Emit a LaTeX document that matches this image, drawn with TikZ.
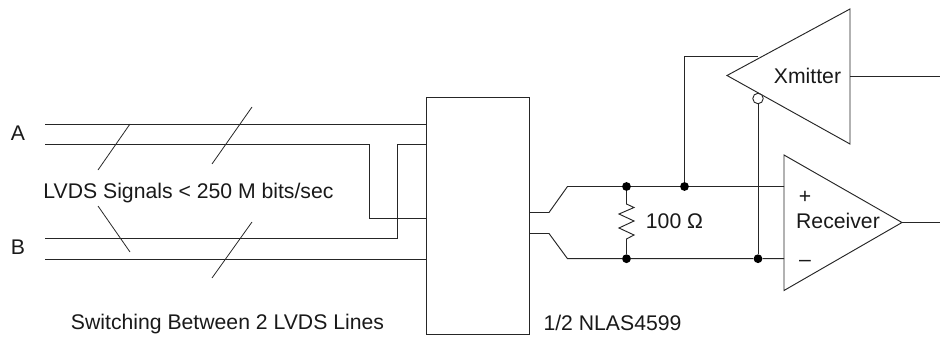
\documentclass[tikz,border=0pt]{standalone}
\usepackage{fontspec}
\setmainfont{Liberation Sans}
\usetikzlibrary{calc}
\tikzset{
  wire/.style={draw=black!85,line width=0.95pt,line join=miter},
  slash/.style={draw=black!85,line width=0.8pt},
  lbl/.style={inner sep=0pt,font=\fontsize{21.2}{24}\selectfont,text=black!90,anchor=base},
  jdot/.style={circle,fill=black,draw=none,minimum size=8.8pt,inner sep=0pt},
  bubble/.style={circle,fill=white,draw=black!85,line width=0.9pt,minimum size=10.5pt,inner sep=0pt},
  switchbox/.style={draw=black!85,line width=0.95pt,minimum width=103pt,minimum height=237pt,inner sep=0pt}
}
\begin{document}
\begin{tikzpicture}[x=1pt,y=-1pt]
\useasboundingbox (0,0) rectangle (940,337);
% switch box
\node[switchbox] (sw) at (477.5,215.5) {};
% free line ends
\coordinate (a1) at (45,124);
\coordinate (a2) at (45,144);
\coordinate (b1) at (45,238);
\coordinate (b2) at (45,259);
\coordinate (s1) at (426,124);
\coordinate (s2) at (426,144);
\coordinate (s3) at (426,218);
\coordinate (s4) at (426,259);
\draw[wire] (a1) -- (s1);
\draw[wire] (a2) -| (369,218) -- (s3);
\draw[wire] (b1) -| (397,144) -- (s2);
\draw[wire] (b2) -- (s4);
% bus slashes
\coordinate (q1a) at (98,170);  \coordinate (q1b) at (130,124);
\coordinate (q2a) at (212,164); \coordinate (q2b) at (252,107);
\coordinate (q3a) at (98,206);  \coordinate (q3b) at (130,252);
\coordinate (q4a) at (212,278); \coordinate (q4b) at (252,222);
\draw[slash] (q1a) -- (q1b);
\draw[slash] (q2a) -- (q2b);
\draw[slash] (q3a) -- (q3b);
\draw[slash] (q4a) -- (q4b);
% labels left
\node[lbl] (lA) at (18,140.7) {A};
\node[lbl] (lB) at (18,254) {B};
\node[lbl] (lvds) at (188.5,198.3) {LVDS Signals < 250 M bits/sec};
\node[lbl] (lsw) at (227.5,329.3) {Switching Between 2 LVDS Lines};
\node[lbl] (lnl) at (612.5,330) {1/2 NLAS4599};
% junctions
\node[jdot] (j1) at (626.5,186.5) {};
\node[jdot] (j2) at (684.5,186.5) {};
\node[jdot] (j3) at (626.5,258.7) {};
\node[jdot] (j4) at (758,258.7) {};
% amplifiers
\coordinate (xa) at (727,75.5);
\coordinate (xt) at (850,9);
\coordinate (xb) at (850,144);
\coordinate (ra) at (902,222.5);
\coordinate (rt) at (784,155);
\coordinate (rb) at (784,290.5);
\draw[wire] (xa) -- (xt) -- (xb) -- cycle;
\draw[wire] (ra) -- (rt) -- (rb) -- cycle;
% differential pair
\coordinate (o1) at (529,212.5);
\coordinate (o2) at (529,233.5);
\coordinate (r1) at (784,186.5);
\coordinate (r2) at (784,258.7);
\draw[wire] (o1) -- (549,212.5) -- (567.5,186.5) -- (j1) -- (j2) -- (r1);
\draw[wire] (o2) -- (549,233.5) -- (567.5,258.7) -- (j3) -- (j4) -- (r2);
% resistor
\draw[wire] (j1) -- (626.5,204) -- (634,207.5) -- (619,214) -- (634,221) -- (619,228) -- (634,235) -- (626.5,239) -- (j3);
% xmitter feeds
\node[bubble] (bub) at (758,98.5) {};
\coordinate (xi) at (758,56);
\draw[wire] (j2) |- (xi);
\draw[wire] (bub) -- (j4);
% outputs
\coordinate (xo) at (850,76);
\coordinate (xe) at (940,76);
\coordinate (ro) at (902,222.5);
\coordinate (re) at (940,222.5);
\draw[wire] (xo) -- (xe);
\draw[wire] (ro) -- (re);
% labels right
\node[lbl] (lx) at (807.5,83.3) {Xmitter};
\node[lbl] (lr) at (838,228.7) {Receiver};
\node[lbl] (lp) at (805,203.4) {+};
\node[lbl] (lm) at (805,266.4) {–};
\node[lbl] (lo) at (674.5,228.3) {100 Ω};
\end{tikzpicture}
\end{document}
